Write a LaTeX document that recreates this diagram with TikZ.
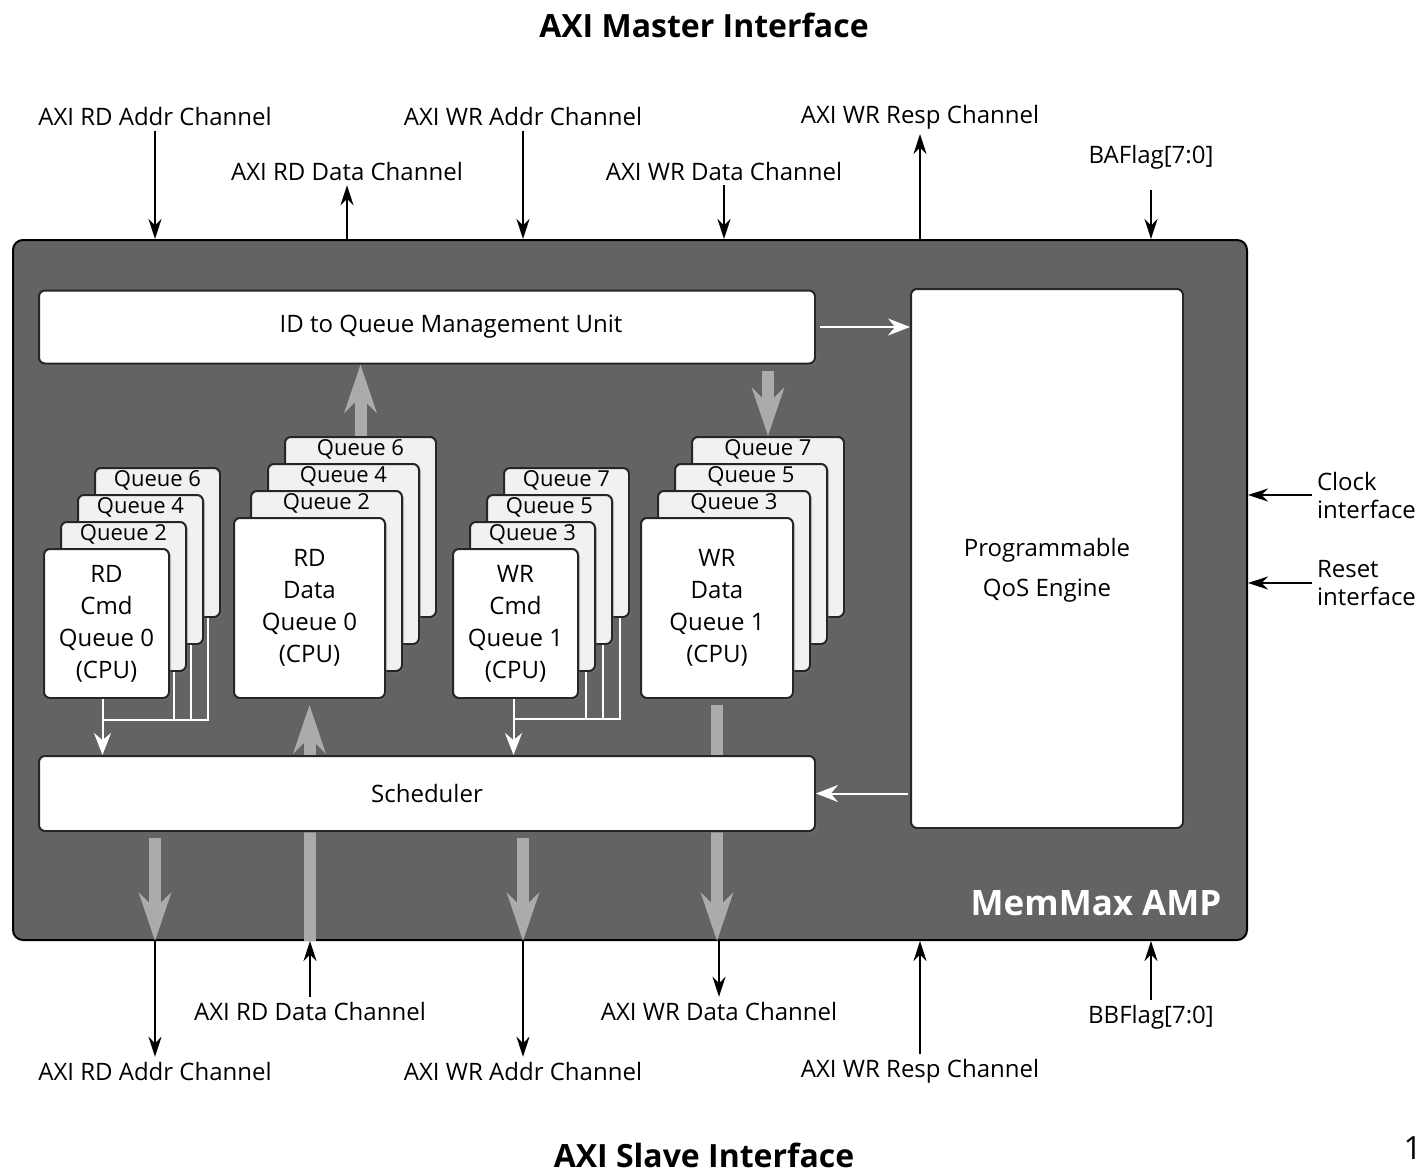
\documentclass[tikz,border=0pt]{standalone}
\usepackage{fontspec}
\setmainfont{Open Sans}
\usetikzlibrary{arrows.meta,calc,shadows}
\tikzset{every picture/.style={line width=1pt}}
\definecolor{ampgray}{RGB}{99,99,99}
\definecolor{pipegray}{RGB}{171,171,171}
\definecolor{layergray}{RGB}{241,241,243}

\begin{document}
\begin{tikzpicture}[x=0.5pt, y=-0.5pt,
    lbl/.style={font=\fontsize{12}{14}\selectfont, inner sep=2pt},
    ttl/.style={font=\fontsize{16}{19}\selectfont\bfseries},
    blk/.style={draw=black!85, fill=white, rounded corners=3pt, font=\fontsize{12}{14}\selectfont,
        drop shadow={shadow xshift=1pt, shadow yshift=-1pt, opacity=.35}},
    qback/.style={blk, fill=layergray, anchor=north west, inner sep=0pt},
    qfront/.style={blk, anchor=north west, align=center, font=\fontsize{12}{16}\selectfont},
    qlbl/.style={font=\fontsize{11}{13}\selectfont, anchor=north, inner sep=1.5pt},
    barrow/.style={draw=black, -{Stealth[length=10pt, width=6.5pt]}},
    warrow/.style={draw=white, -{Stealth[length=11pt, width=8.5pt]}},
    wline/.style={draw=white},
    garrow/.style={draw=pipegray, line width=6pt, -{Stealth[length=24pt, width=16pt]}}]
    \useasboundingbox (0,0) rectangle (1427,1172);

    % titles
    \node[ttl] (master) at (704,25) {AXI Master Interface};
    \node[ttl] (slave) at (704,1155) {AXI Slave Interface};
    \node[font=\fontsize{16}{18}\selectfont, anchor=east, inner sep=1pt] (pagenum) at (1425,1148) {1};

    % MemMax AMP block
    \node[draw=black, fill=ampgray, rounded corners=5pt, minimum width=617pt, minimum height=350pt] (amp) at (630,590) {};
    \node[font=\fontsize{17.5}{20}\selectfont\bfseries, text=white, anchor=east] (ampname) at (1229,903) {MemMax AMP};

    \node[blk, minimum width=388pt, minimum height=36.5pt] (idq) at (427,327) {\hspace*{24pt}ID to Queue Management Unit};
    \node[blk, minimum width=136pt, minimum height=269.5pt,
        label={[align=center, font=\fontsize{12}{20}\selectfont, yshift=-6pt]center:Programmable\\QoS Engine}] (qos) at (1047,558.5) {};

    % queue stacks
    \foreach \k/\q in {3/6,2/4,1/2}
        \node[qback, minimum width=62.5pt, minimum height=74.5pt, label={[qlbl]north:Queue \q}] (rdcmd-\k) at ($(43,548)+(17*\k,-27*\k)$) {};
    \node[qfront, minimum width=62.5pt, minimum height=74.5pt] (rdcmd) at (43,548) {RD\\Cmd\\Queue 0\\(CPU)};

    \foreach \k/\q in {3/6,2/4,1/2}
        \node[qback, minimum width=75.5pt, minimum height=90pt, label={[qlbl]north:Queue \q}] (rddata-\k) at ($(233,517)+(17*\k,-27*\k)$) {};
    \node[qfront, minimum width=75.5pt, minimum height=90pt] (rddata) at (233,517) {RD\\Data\\Queue 0\\(CPU)};

    \foreach \k/\q in {3/7,2/5,1/3}
        \node[qback, minimum width=62.5pt, minimum height=74.5pt, label={[qlbl]north:Queue \q}] (wrcmd-\k) at ($(452,548)+(17*\k,-27*\k)$) {};
    \node[qfront, minimum width=62.5pt, minimum height=74.5pt] (wrcmd) at (452,548) {WR\\Cmd\\Queue 1\\(CPU)};

    \foreach \k/\q in {3/7,2/5,1/3}
        \node[qback, minimum width=76pt, minimum height=90pt, label={[qlbl]north:Queue \q}] (wrdata-\k) at ($(640,517)+(17*\k,-27*\k)$) {};
    \node[qfront, minimum width=76pt, minimum height=90pt] (wrdata) at (640,517) {WR\\Data\\Queue 1\\(CPU)};

    % bottom labels
    \node[lbl] (s-rdaddr) at (155,1071) {AXI RD Addr Channel};
    \node[lbl] (s-rddata) at (310,1011) {AXI RD Data Channel};
    \node[lbl] (s-wraddr) at (523,1071) {AXI WR Addr Channel};
    \node[lbl] (s-wrdata) at (719,1011) {AXI WR Data Channel};
    \node[lbl] (s-wrresp) at (920,1071) {AXI WR Resp Channel};
    \node[lbl] (bbflag) at (1151,1017) {BBFlag[7:0]};

    % data pipes, under the scheduler
    \draw[garrow, shorten >=3pt] (rddata.south |- amp.south) -- (rddata.south);
    \draw[garrow, shorten <=3pt] (wrdata.south) -- (wrdata.south |- amp.south);
    \draw[garrow] (rddata-3.north) -- (rddata-3.north |- idq.south);
    \draw[garrow, shorten <=3pt] (wrdata-3.north |- idq.south) -- (wrdata-3.north);

    \node[blk, minimum width=388pt, minimum height=37.5pt] (sched) at (427,793.5) {Scheduler};

    \draw[garrow, shorten <=3pt] (sched.south -| s-rdaddr) -- (amp.south -| s-rdaddr);
    \draw[garrow, shorten <=3pt] (sched.south -| s-wraddr) -- (amp.south -| s-wraddr);

    % cmd queues into the scheduler
    \coordinate (rdcmd-j) at ($(rdcmd.south)+(-4,21)$);
    \draw[warrow] ($(rdcmd.south)+(-4,0)$) -- (rdcmd-j |- sched.north);
    \foreach \k in {1,2,3}
        \draw[wline] ($(rdcmd-\k.south east)+(-13,0)$) |- (rdcmd-j);
    \coordinate (wrcmd-j) at ($(wrcmd.south)+(-2,20)$);
    \draw[warrow] ($(wrcmd.south)+(-2,0)$) -- (wrcmd-j |- sched.north);
    \foreach \k in {1,2,3}
        \draw[wline] ($(wrcmd-\k.south east)+(-10,0)$) |- (wrcmd-j);

    \draw[warrow, shorten <=2pt] (idq.east) -- (idq.east -| qos.west);
    \draw[warrow, shorten <=1pt] (qos.west |- sched.east) -- (sched.east);

    % top labels
    \node[lbl] (m-rdaddr) at (155,117) {AXI RD Addr Channel};
    \node[lbl] (m-rddata) at (347,171) {AXI RD Data Channel};
    \node[lbl] (m-wraddr) at (523,117) {AXI WR Addr Channel};
    \node[lbl] (m-wrdata) at (724,171) {AXI WR Data Channel};
    \node[lbl] (m-wrresp) at (920,117) {AXI WR Resp Channel};
    \node[lbl] (baflag) at (1151,157) {BAFlag[7:0]};

    \draw[barrow] (m-rdaddr) -- (m-rdaddr |- amp.north);
    \draw[barrow] (m-rddata |- amp.north) -- (m-rddata);
    \draw[barrow] (m-wraddr) -- (m-wraddr |- amp.north);
    \draw[barrow] (m-wrdata) -- (m-wrdata |- amp.north);
    \draw[barrow] (m-wrresp |- amp.north) -- (m-wrresp);
    \draw[barrow, shorten <=8pt] (baflag) -- (baflag |- amp.north);

    \draw[barrow] (s-rdaddr |- amp.south) -- (s-rdaddr);
    \draw[barrow] (s-rddata) -- (s-rddata |- amp.south);
    \draw[barrow] (s-wraddr |- amp.south) -- (s-wraddr);
    \draw[barrow] (s-wrdata |- amp.south) -- (s-wrdata);
    \draw[barrow] (s-wrresp) -- (s-wrresp |- amp.south);
    \draw[barrow] (bbflag) -- (bbflag |- amp.south);

    % side inputs
    \node[lbl, anchor=west, align=left] (clock) at (1312,495) {Clock\\interface};
    \node[lbl, anchor=west, align=left] (reset) at (1312,583) {Reset\\interface};
    \draw[barrow] (clock.west) -- (clock.west -| amp.east);
    \draw[barrow] (reset.west) -- (reset.west -| amp.east);
\end{tikzpicture}
\end{document}
